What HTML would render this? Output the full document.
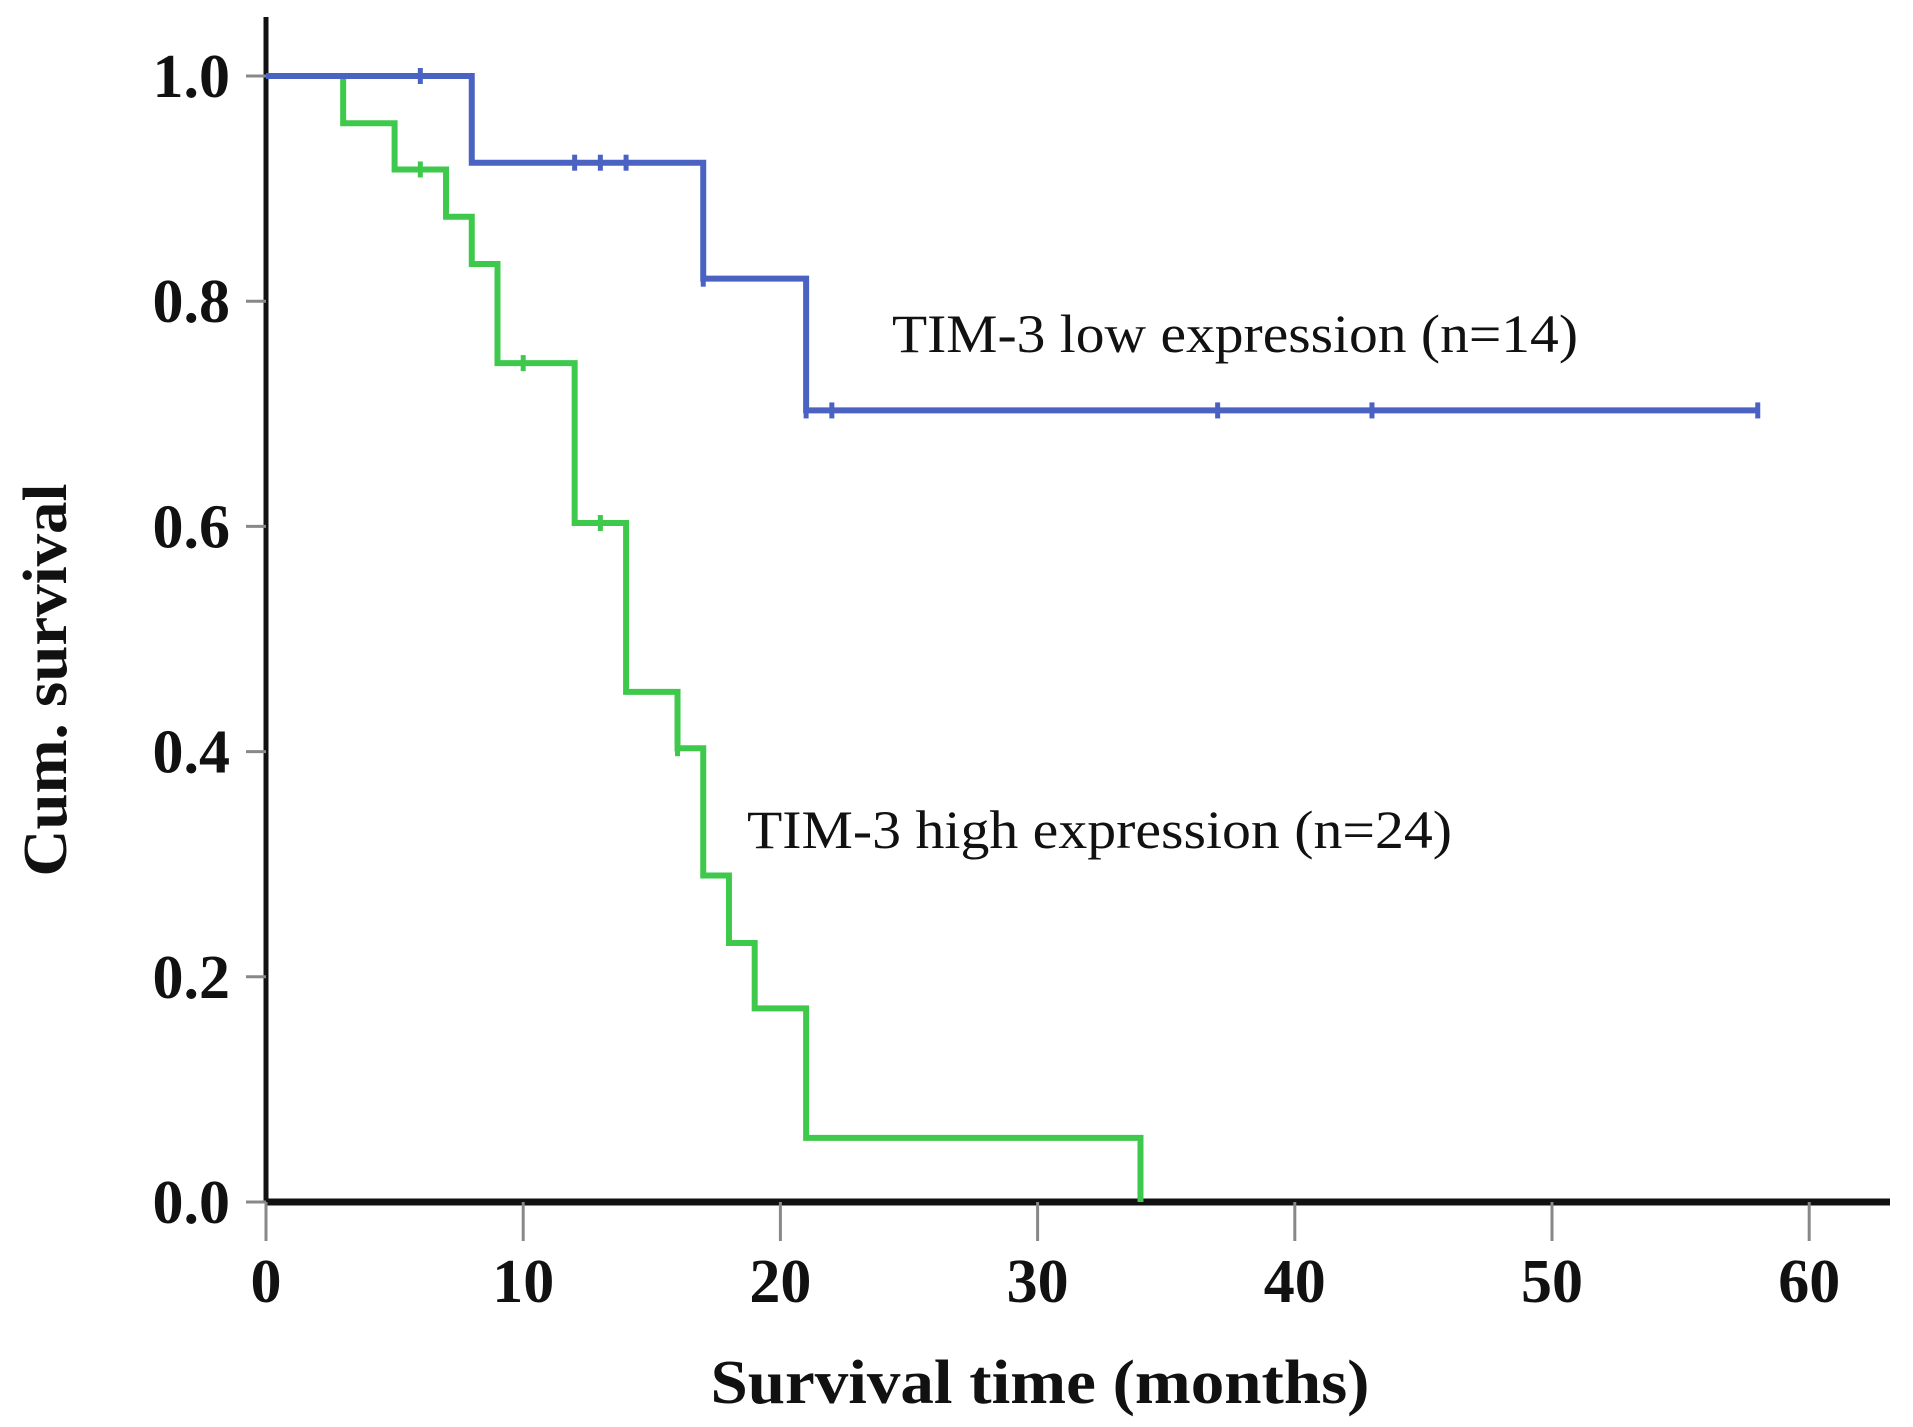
<!DOCTYPE html>
<html><head><meta charset="utf-8"><style>
html,body{margin:0;padding:0;background:#fff;}
svg{display:block;}
</style></head><body>
<svg id="chart" width="1913" height="1427" viewBox="0 0 1913 1427" xmlns="http://www.w3.org/2000/svg">
<g id="axes"></g>
<g id="series"></g>
<text x="892" y="352" font-family="Liberation Serif, serif" font-size="54" fill="#111" textLength="686" lengthAdjust="spacingAndGlyphs">TIM-3 low expression (n=14)</text>
<text x="747" y="848" font-family="Liberation Serif, serif" font-size="54" fill="#111" textLength="705" lengthAdjust="spacingAndGlyphs">TIM-3 high expression (n=24)</text>
<text x="1040" y="1403" text-anchor="middle" font-family="Liberation Serif, serif" font-weight="bold" font-size="62" fill="#111" textLength="659" lengthAdjust="spacingAndGlyphs">Survival time (months)</text>
<text transform="translate(66,680) rotate(-90)" text-anchor="middle" font-family="Liberation Serif, serif" font-weight="bold" font-size="62" fill="#111" textLength="393" lengthAdjust="spacingAndGlyphs">Cum. survival</text>
</svg>
<script>
const xTicks = [0,10,20,30,40,50,60];
const yTicks = [0.0,0.2,0.4,0.6,0.8,1.0];
const lowTimes = [0,8,17,21,58];
const lowSurv = [1.0,0.923,0.82,0.703,0.703];
const lowCensorTimes = [6,12,13,14,17,21,22,37,43,58];
const highTimes = [0,3,5,7,8,9,12,14,16,17,18,19,21,34];
const highSurv = [1.0,0.958,0.917,0.875,0.833,0.745,0.603,0.453,0.403,0.29,0.23,0.172,0.057,0.0];
const highCensorTimes = [6,10,13,16];

const X0=266, XS=25.72, Y0=1202, YS=1126;
const xs = t => X0 + t*XS;
const ys = v => Y0 - v*YS;
const NS="http://www.w3.org/2000/svg";
function mk(tag, attrs, parent){const e=document.createElementNS(NS,tag);for(const k in attrs)e.setAttribute(k,attrs[k]);parent.appendChild(e);return e;}
const axes=document.getElementById('axes');
const series=document.getElementById('series');

let ya=mk('line',{x1:X0,y1:17,x2:X0,y2:Y0,stroke:'#111','stroke-width':5},axes);


let xa=mk('line',{x1:X0,y1:Y0,x2:1890,y2:Y0,stroke:'#111','stroke-width':7},axes);



yTicks.forEach(v=>{
  const t=mk('line',{x1:X0-20,y1:ys(v),x2:X0,y2:ys(v),stroke:'#888','stroke-width':3},axes);
  
  
  const l=mk('text',{x:230,y:ys(v)+21,'text-anchor':'end','font-family':'Liberation Serif, serif','font-weight':'bold','font-size':62,fill:'#111'},axes);
  l.textContent=v.toFixed(1);
  
  
});
xTicks.forEach(v=>{
  const t=mk('line',{x1:xs(v),y1:Y0,x2:xs(v),y2:1241,stroke:'#888','stroke-width':3},axes);
  
  
  const l=mk('text',{x:xs(v),y:1302,'text-anchor':'middle','font-family':'Liberation Serif, serif','font-weight':'bold','font-size':62,fill:'#111'},axes);
  l.textContent=String(v);
  
  
});

function stepPath(times, surv){
  let d='M'+xs(times[0])+','+ys(surv[0]);
  for(let i=1;i<times.length;i++){
    d+=' H'+xs(times[i])+' V'+ys(surv[i]);
  }
  return d;
}
function survAt(times,surv,t){
  let v=surv[0];
  for(let i=0;i<times.length;i++){ if(times[i]<=t) v=surv[i]; }
  return v;
}
function drawSeries(times,surv,cens,color,name){
  const p=mk('path',{d:stepPath(times,surv),fill:'none',stroke:color,'stroke-width':6,'stroke-linejoin':'miter'},series);
  
  
  cens.forEach(t=>{
    const v=survAt(times,surv,t);
    const c=mk('line',{x1:xs(t),y1:ys(v)-8,x2:xs(t),y2:ys(v)+8,stroke:color,'stroke-width':5},series);
    
    
  });
}
drawSeries(highTimes,highSurv,highCensorTimes,'#3ec94c','high-expression');
drawSeries(lowTimes,lowSurv,lowCensorTimes,'#4a62c2','low-expression');
</script>
</body></html>
